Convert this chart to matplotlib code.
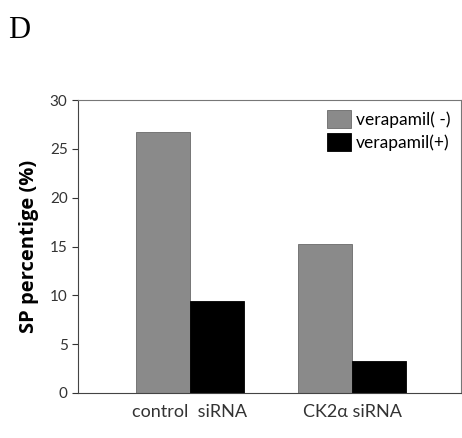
import numpy as np
import matplotlib.pyplot as plt

plt.rcParams['font.family'] = ['Lato', 'DejaVu Sans']

categorias = ["control  siRNA", "CK2\u03b1 siRNA"]
sin_verapamil = [26.7, 15.3]  # verapamil(-)
con_verapamil = [9.4, 3.3]    # verapamil(+)
ticks_y = [0, 5, 10, 15, 20, 25, 30]

fig = plt.figure(figsize=(4.62, 4.38), dpi=100)
ax = fig.add_axes([78/462, 1-393/438, 383/462, 293/438])

x = np.arange(len(categorias))
ancho = 1/3
ax.bar(x - ancho/2, sin_verapamil, ancho, color="#8a8a8a", edgecolor="#6a6a6a", linewidth=0.6, label="verapamil( -)")
ax.bar(x + ancho/2, con_verapamil, ancho, color="black", edgecolor="black", linewidth=0.6, label="verapamil(+)")

ax.set_xlim(-0.69, 1.67)
ax.set_ylim(0, 30)
ax.set_yticks(ticks_y)
ax.set_xticks(x)
ax.set_xticklabels(categorias, fontsize=13, color="#333333")
ax.tick_params(axis="x", length=0, pad=8)
ax.tick_params(axis="y", labelsize=11, colors="#333333", length=4, width=0.8)
ax.set_ylabel("SP percentige (%)", fontsize=14.5, fontweight="bold", labelpad=8,
              family=["Open Sans", "DejaVu Sans"])

for lado in ["top", "right"]:
    ax.spines[lado].set_color("#777777")
for lado in ["left", "bottom"]:
    ax.spines[lado].set_color("#444444")

ax.legend(loc="upper right", frameon=False, fontsize=12.5, handlelength=1.4, handleheight=1.2,
          handletextpad=0.3, labelspacing=0.3, borderaxespad=0.2)

fig.text(8/462, 1-30/438, "D", fontsize=22, family="Liberation Serif", va="center")

plt.savefig("out.png", dpi=100)
